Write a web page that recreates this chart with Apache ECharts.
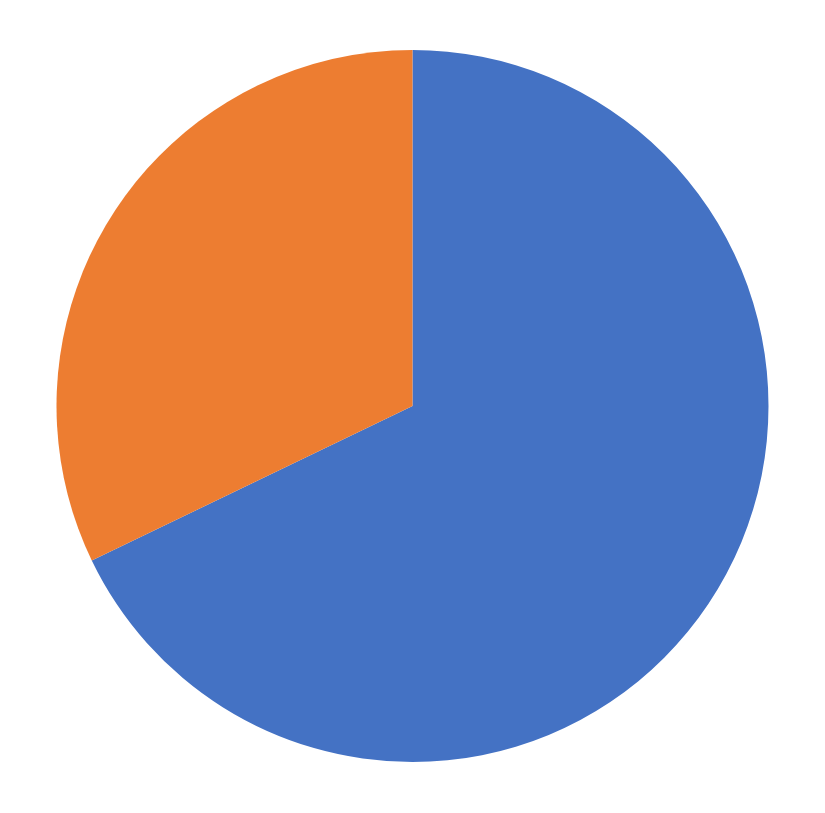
<!DOCTYPE html>
<html>
<head>
    <meta charset="utf-8">
    <title>Pie</title>
    <script src="https://cdn.jsdelivr.net/npm/echarts@6/dist/echarts.min.js"></script>
    <style>
        html, body { margin: 0; padding: 0; background: #ffffff; }
    </style>
</head>
<body>
    <div id="chart" style="width: 825px; height: 813px;"></div>

    <script>
    // slice names and shares (orange is about 32.1%)
    const categories = ['1st', '2nd'];
    const values = [19, 9];
    const colors = ['#4472C4', '#ED7D31'];

    const chart = echarts.init(document.getElementById('chart'));

    const option = {
        animation: false,
        color: colors,
        series: [
            {
                type: 'pie',
                center: [412.5, 406],
                radius: 356,
                startAngle: 90,
                clockwise: true,
                label: { show: false },
                labelLine: { show: false },
                emphasis: { disabled: true },
                itemStyle: { borderWidth: 0 },
                data: categories.map((name, i) => ({ name: name, value: values[i] }))
            }
        ]
    };

    chart.setOption(option);
    </script>
</body>
</html>
